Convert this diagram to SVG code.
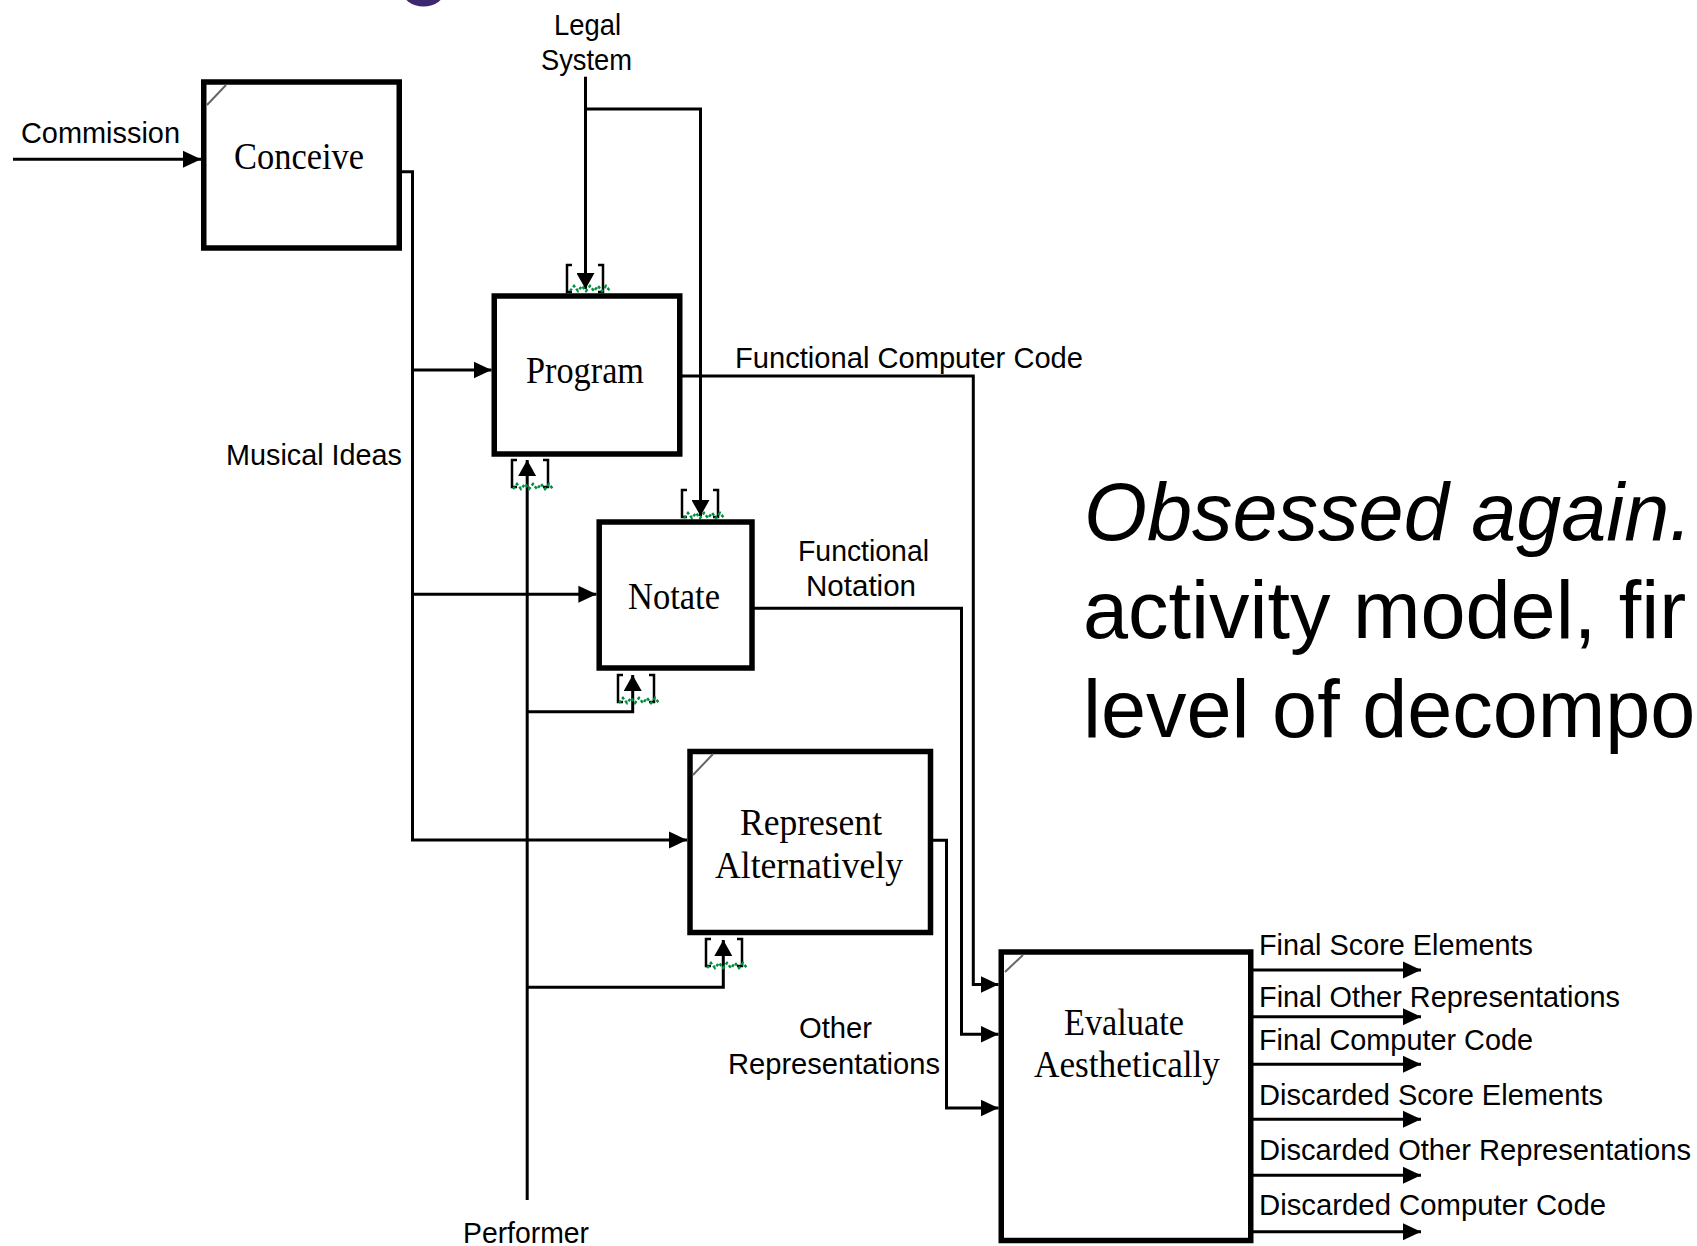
<svg xmlns="http://www.w3.org/2000/svg" xmlns:xlink="http://www.w3.org/1999/xlink" width="1697" height="1246" viewBox="0 0 1697 1246">
<style>
.box{fill:#fff;stroke:#000;stroke-width:5.5}
.diag{stroke:#666;stroke-width:2}
.bt{font-family:"Liberation Serif","Times New Roman",serif;font-size:37px;fill:#000}
.lbl{font-family:"Liberation Sans",Arial,sans-serif;font-size:29px;fill:#000}
.big{font-family:"Liberation Sans",Arial,sans-serif;font-size:81px;fill:#000}
.conn{fill:none;stroke:#000;stroke-width:3}
.brk{fill:none;stroke:#000;stroke-width:2.5}
.sq{fill:none;stroke:#009040;stroke-width:2.5;stroke-dasharray:3 2}
</style>
<defs>
<marker id="ah" viewBox="0 0 18 18" markerWidth="18" markerHeight="18" refX="18" refY="9" orient="auto" markerUnits="userSpaceOnUse">
<path d="M0,0.5 L18,9 L0,17.5 Z" fill="#000"/>
</marker>
<marker id="at" viewBox="0 0 16 18" markerWidth="16" markerHeight="18" refX="16" refY="9" orient="auto" markerUnits="userSpaceOnUse">
<path d="M0,0 L16,9 L0,18 Z" fill="#000"/>
</marker>
<path id="brk" class="brk" d="M5,0 H0 V27 H5 M31,0 H36 V27 H31"/>
<path id="sq" class="sq" d="M0,5 l4,-5 l4,5 l4,-5 l4,5 l4,-5 l4,5 l4,-5 l4,5 l4,-5 l4,5"/>
</defs>
<rect width="1697" height="1246" fill="#fff"/>
<ellipse cx="423.5" cy="-10" rx="21.5" ry="16.5" fill="#3c2870"/>

<g id="connectors">
<path class="conn" d="M13,159.3 H201" marker-end="url(#ah)"/>
<path class="conn" d="M402,171.7 H412.5 V840 H687" marker-end="url(#ah)"/>
<path class="conn" d="M412.5,370 H491.5" marker-end="url(#ah)"/>
<path class="conn" d="M412.5,594.3 H596.4" marker-end="url(#ah)"/>
<path class="conn" d="M585.5,76.7 V289" marker-end="url(#at)"/>
<path class="conn" d="M585.5,109 H700.5 V516" marker-end="url(#at)"/>
<path class="conn" d="M682,376 H973.3 V984.5 H998.5" marker-end="url(#ah)"/>
<path class="conn" d="M754,608.3 H961.5 V1034.3 H998.5" marker-end="url(#ah)"/>
<path class="conn" d="M933,840.3 H946.5 V1108 H998.5" marker-end="url(#ah)"/>
<path class="conn" d="M527.2,1200 V460" marker-end="url(#at)"/>
<path class="conn" d="M527.2,711.7 H632.7 V675" marker-end="url(#at)"/>
<path class="conn" d="M527.2,987.3 H723.3 V940" marker-end="url(#at)"/>
<path class="conn" d="M1253,970 H1421" marker-end="url(#ah)"/>
<path class="conn" d="M1253,1016.7 H1421" marker-end="url(#ah)"/>
<path class="conn" d="M1253,1064.3 H1421" marker-end="url(#ah)"/>
<path class="conn" d="M1253,1119.3 H1421" marker-end="url(#ah)"/>
<path class="conn" d="M1253,1175.3 H1421" marker-end="url(#ah)"/>
<path class="conn" d="M1253,1231.7 H1421" marker-end="url(#ah)"/>
<use href="#brk" x="567" y="265"/>
<use href="#sq" x="570" y="286"/>
<use href="#brk" x="512" y="460"/>
<use href="#sq" x="513" y="484"/>
<use href="#brk" x="682" y="490"/>
<use href="#sq" x="684" y="513"/>
<use href="#brk" x="618" y="675"/>
<use href="#sq" x="619" y="698"/>
<use href="#brk" x="706" y="939"/>
<use href="#sq" x="707" y="963"/>
</g>

<g id="node-conceive">
<rect class="box" x="203.75" y="82" width="195.5" height="166"/>
<line class="diag" x1="207" y1="105" x2="226" y2="85"/>
<text class="bt" x="234" y="169.3" textLength="130" lengthAdjust="spacingAndGlyphs">Conceive</text>
</g>
<g id="node-program">
<rect class="box" x="494.25" y="296" width="185.5" height="158"/>
<text class="bt" x="526" y="383.3" textLength="118" lengthAdjust="spacingAndGlyphs">Program</text>
</g>
<g id="node-notate">
<rect class="box" x="599.2" y="522" width="152.8" height="146"/>
<text class="bt" x="628" y="609.3" textLength="92" lengthAdjust="spacingAndGlyphs">Notate</text>
</g>
<g id="node-represent">
<rect class="box" x="690" y="751.5" width="240.5" height="181"/>
<line class="diag" x1="693" y1="775" x2="713" y2="754"/>
<text class="bt" x="740" y="835" textLength="142" lengthAdjust="spacingAndGlyphs">Represent</text>
<text class="bt" x="715" y="877.6" textLength="188" lengthAdjust="spacingAndGlyphs">Alternatively</text>
</g>
<g id="node-evaluate">
<rect class="box" x="1001.25" y="952" width="249.5" height="288.5"/>
<line class="diag" x1="1005" y1="972" x2="1023" y2="955"/>
<text class="bt" x="1064" y="1035" textLength="120" lengthAdjust="spacingAndGlyphs">Evaluate</text>
<text class="bt" x="1034" y="1076.7" textLength="186" lengthAdjust="spacingAndGlyphs">Aesthetically</text>
</g>

<g id="labels">
<text class="lbl" x="21" y="143.3" textLength="159" lengthAdjust="spacingAndGlyphs">Commission</text>
<text class="lbl" x="554" y="35" textLength="67" lengthAdjust="spacingAndGlyphs">Legal</text>
<text class="lbl" x="541" y="70" textLength="91" lengthAdjust="spacingAndGlyphs">System</text>
<text class="lbl" x="735" y="368.3" textLength="348" lengthAdjust="spacingAndGlyphs">Functional Computer Code</text>
<text class="lbl" x="226" y="465" textLength="176" lengthAdjust="spacingAndGlyphs">Musical Ideas</text>
<text class="lbl" x="798" y="560.6" textLength="131" lengthAdjust="spacingAndGlyphs">Functional</text>
<text class="lbl" x="806" y="596.3" textLength="110" lengthAdjust="spacingAndGlyphs">Notation</text>
<text class="lbl" x="799" y="1038.4" textLength="73" lengthAdjust="spacingAndGlyphs">Other</text>
<text class="lbl" x="728" y="1074.3" textLength="212" lengthAdjust="spacingAndGlyphs">Representations</text>
<text class="lbl" x="463" y="1243.3" textLength="126" lengthAdjust="spacingAndGlyphs">Performer</text>
<text class="lbl" x="1259" y="955" textLength="274" lengthAdjust="spacingAndGlyphs">Final Score Elements</text>
<text class="lbl" x="1259" y="1006.7" textLength="361" lengthAdjust="spacingAndGlyphs">Final Other Representations</text>
<text class="lbl" x="1259" y="1050" textLength="274" lengthAdjust="spacingAndGlyphs">Final Computer Code</text>
<text class="lbl" x="1259" y="1105" textLength="344" lengthAdjust="spacingAndGlyphs">Discarded Score Elements</text>
<text class="lbl" x="1259" y="1160" textLength="432" lengthAdjust="spacingAndGlyphs">Discarded Other Representations</text>
<text class="lbl" x="1259" y="1215" textLength="347" lengthAdjust="spacingAndGlyphs">Discarded Computer Code</text>
</g>

<g id="caption">
<text class="big" x="1084" y="539.5" font-style="italic">Obsessed again.</text>
<text class="big" x="1083" y="637.5">activity model, fir</text>
<text class="big" x="1083" y="737">level of decompo</text>
</g>
</svg>
